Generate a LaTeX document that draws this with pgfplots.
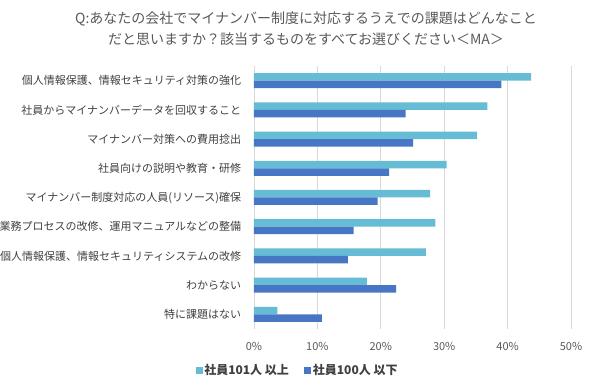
\documentclass[border=0pt]{standalone}
\usepackage{fontspec}
\setmainfont{Noto Sans CJK JP}
\usepackage{pgfplots}
\pgfplotsset{compat=1.18}
\definecolor{light}{RGB}{102,188,212}
\definecolor{dark}{RGB}{70,118,196}
\definecolor{txt}{RGB}{64,64,64}
\definecolor{tick}{RGB}{89,89,89}
\definecolor{gridc}{RGB}{217,217,217}
\begin{document}
\begin{tikzpicture}[x=1pt,y=1pt]
\path[use as bounding box] (0,0) rectangle (600,385);
\node[align=center, font=\fontsize{14}{21}\selectfont, text=tick, inner sep=0pt] at (306,356.5)
  {Q:あなたの会社でマイナンバー制度に対応するうえでの課題はどんなこと\\だと思いますか？該当するものをすべてお選びください＜MA＞};
\begin{axis}[
  at={(254pt,56pt)}, anchor=south west,
  width=317pt, height=263pt, scale only axis,
  xbar, bar width=7.5pt,
  xmin=0, xmax=50, ymin=-0.5, ymax=8.5,
  xtick={0,10,20,30,40,50},
  xticklabels={0\%,10\%,20\%,30\%,40\%,50\%},
  ytick={0,1,2,3,4,5,6,7,8},
  yticklabels={特に課題はない,わからない,個人情報保護、情報セキュリティシステムの改修,業務プロセスの改修、運用マニュアルなどの整備,マイナンバー制度対応の人員(リソース)確保,社員向けの説明や教育・研修,マイナンバー対策への費用捻出,社員からマイナンバーデータを回収すること,個人情報保護、情報セキュリティ対策の強化},
  xmajorgrids, grid style={draw=gridc, line width=0.8pt},
  axis line style={draw=none}, tick style={draw=none},
  x tick label style={font=\fontsize{11}{13}\selectfont, text=tick, anchor=center, yshift=-17pt},
  y tick label style={font=\fontsize{11}{13}\selectfont, text=txt, anchor=east, xshift=-5pt},
  legend style={at={(0.137,-0.156)}, anchor=center, draw=none, fill=none,
    legend columns=2, font=\bfseries\fontsize{12}{14}\selectfont, text=txt,
    /tikz/every even column/.append style={column sep=14pt},
    nodes={inner sep=1.5pt}},
  legend image code/.code={\fill[#1,draw=none] (0pt,-3.5pt) rectangle (7pt,3.5pt);},
]
\addplot[fill=light, draw=none, bar shift=3.75pt] coordinates {
  (43.7,8) (36.8,7) (35.2,6) (30.4,5) (27.8,4) (28.6,3) (27.1,2) (17.8,1) (3.7,0)};
\addplot[fill=dark, draw=none, bar shift=-3.75pt] coordinates {
  (39.0,8) (23.9,7) (25.1,6) (21.3,5) (19.5,4) (15.7,3) (14.8,2) (22.4,1) (10.7,0)};
\legend{社員101人 以上,社員100人 以下}
\end{axis}
\end{tikzpicture}
\end{document}
